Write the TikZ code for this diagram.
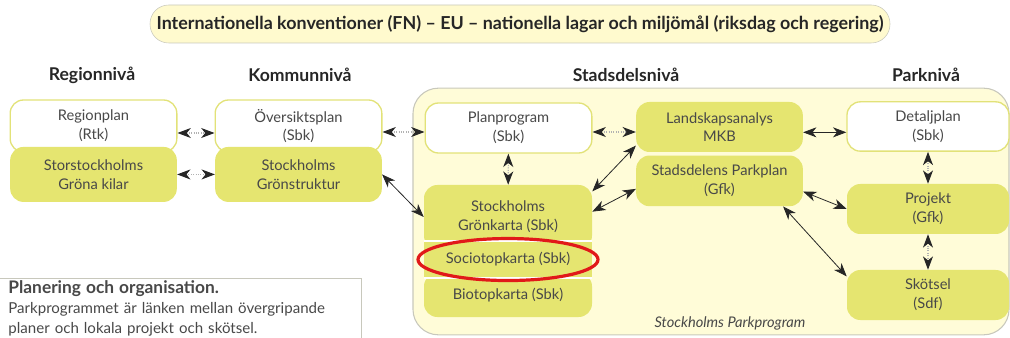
\documentclass[tikz,border=0pt]{standalone}
\usepackage{fontspec}
\setmainfont{Lato}
\usetikzlibrary{shapes.geometric, arrows.meta, positioning}

\definecolor{boxgreen}{RGB}{229,229,112}
\definecolor{parkyellow}{RGB}{255,252,216}
\definecolor{pillyellow}{RGB}{255,250,206}
\definecolor{rimyellow}{RGB}{226,226,120}
\definecolor{rimgray}{RGB}{200,200,188}
\definecolor{inkgray}{RGB}{72,72,72}
\definecolor{ringred}{RGB}{225,25,25}

\begin{document}
\begin{tikzpicture}[
    x=0.75pt, y=-0.75pt,
    node distance=2pt,
    txt/.style={font=\fontsize{11pt}{14pt}\selectfont, text=inkgray, align=center},
    whitebox/.style={txt, rectangle, rounded corners=10pt, draw=rimyellow, line width=1pt, fill=white, minimum width=125pt, minimum height=37.5pt},
    greenbox/.style={txt, rectangle, rounded corners=10pt, fill=boxgreen, minimum width=125pt, minimum height=37.5pt},
    flatbox/.style={txt, rectangle, fill=boxgreen, minimum width=126pt},
    level/.style={font=\fontsize{13.2pt}{15pt}\selectfont\bfseries, text=black!85},
    pill/.style={rectangle, rounded corners=14pt, draw=rimgray, fill=pillyellow, minimum width=555pt, minimum height=28.5pt, font=\fontsize{13.4pt}{15pt}\selectfont\bfseries, text=black!85},
    container/.style={rectangle, rounded corners=19pt, draw=rimgray, line width=0.8pt, fill=parkyellow, minimum width=447pt, minimum height=185pt},
    ring/.style={ellipse, draw=ringred, line width=2.4pt, minimum width=135pt, minimum height=31.5pt},
    sepline/.style={white, line width=1.5pt},
    infobox/.style={rectangle, draw=rimgray, line width=0.6pt, font=\fontsize{11.3pt}{15pt}\selectfont, text=inkgray, align=left, text width=255pt, inner xsep=9.75pt, inner ysep=2pt, anchor=north west},
    arrow/.style={<->, >={Stealth[length=10pt,width=7.5pt,inset=3pt]}, line width=0.6pt, black!85},
    dotarrow/.style={<->, >={Stealth[length=10pt,width=7.5pt,inset=3pt,color=black!85]}, line width=0.8pt, draw=black!30, densely dotted}
]
\useasboundingbox (0,0) rectangle (1010,338);

% === TOP ===
\node (konventioner) [pill] at (520,24) {Internationella konventioner (FN) -- EU -- nationella lagar och miljömål (riksdag och regering)};

\node (regionniva) [level] at (92,75) {Regionnivå};
\node (kommunniva) [level] at (300,75) {Kommunnivå};
\node (stadsdelsniva) [level] at (626,75) {Stadsdelsnivå};
\node (parkniva) [level] at (926,75) {Parknivå};

% === REGION / KOMMUN ===
\node (regionplan) [whitebox, minimum height=39pt] at (93.5,126) {Regionplan\\(Rtk)};
\node (kilar) [greenbox, minimum height=41.25pt, below=-4.5pt of regionplan] {Storstockholms\\Gröna kilar};

\node (oversikt) [whitebox, minimum height=39pt] at (298.5,126) {Översiktsplan\\(Sbk)};
\node (gronstruktur) [greenbox, minimum height=41.25pt, below=-4.5pt of oversikt] {Stockholms\\Grönstruktur};

% === STADSDEL ===
\node (park) [container] at (711,211.5) {};
\node (parkprogram) [txt, font=\fontsize{11pt}{13pt}\selectfont\itshape] at (730,323) {Stockholms Parkprogram};

\node (planprogram) [whitebox] at (508.5,128) {Planprogram\\(Sbk)};
\node (landskap) [greenbox] at (719.5,127) {Landskapsanalys\\MKB};
\node (parkplan) [greenbox, minimum height=38pt, below=2.25pt of landskap] {Stadsdelens Parkplan\\(Gfk)};

\node (gronkarta) [greenbox, minimum width=126pt, minimum height=48pt] at (508,217) {Stockholms\\Grönkarta (Sbk)};
\node (biotop) [greenbox, minimum width=126pt, minimum height=33pt] at (508,295) {Biotopkarta (Sbk)};
\node (sociotop) [flatbox, minimum height=27pt, below=-6pt of gronkarta] {Sociotopkarta (Sbk)};
\draw [sepline] (sociotop.north west) -- (sociotop.north east);
\draw [sepline] (sociotop.south west) -- (sociotop.south east);
\node (ring) [ring] at (sociotop) {};

% === PARK ===
\node (detaljplan) [whitebox, minimum width=121.5pt, minimum height=37pt] at (928,126.5) {Detaljplan\\(Sbk)};
\node (projekt) [greenbox, minimum width=121.5pt] at (928,209) {Projekt\\(Gfk)};
\node (skotsel) [greenbox, minimum width=121.5pt] at (928,295) {Skötsel\\(Sdf)};

% === INFO ===
\node (planering) [infobox, minimum width=274.5pt] at (-5,278) {{\fontsize{13pt}{15pt}\selectfont\bfseries Planering och organisation.}\\Parkprogrammet är länken mellan övergripande\\planer och lokala projekt och skötsel.};

% === ARROWS ===
\draw [dotarrow] ([yshift=-5.25pt]regionplan.east) -- ([yshift=-5.25pt]regionplan.east -| oversikt.west);
\draw [dotarrow] (kilar) -- (gronstruktur);
\draw [dotarrow] ([yshift=-4.5pt]oversikt.east) -- ([yshift=-4.5pt]oversikt.east -| planprogram.west);
\draw [arrow] (gronstruktur.east) -- (gronkarta.west);

\draw [dotarrow] (planprogram) -- (gronkarta);
\draw [dotarrow] ([yshift=-3pt]planprogram.east) -- ([yshift=-3pt]planprogram.east -| landskap.west);
\draw [arrow] ([yshift=5pt]landskap.south west) -- ([yshift=-5pt]gronkarta.north east);
\draw [arrow] ([yshift=-6pt]parkplan.west) -- ([yshift=4pt]gronkarta.east);

\draw [arrow] ([yshift=-4pt]landskap.east) -- ([yshift=-4pt]landskap.east -| detaljplan.west);
\draw [arrow] ([yshift=-8pt]parkplan.east) -- (projekt.west);
\draw [arrow] ([xshift=-15pt]parkplan.south east) -- ([yshift=-5pt]skotsel.north west);

\draw [dotarrow] (detaljplan) -- (projekt);
\draw [dotarrow] (projekt) -- (skotsel);

\end{tikzpicture}
\end{document}
